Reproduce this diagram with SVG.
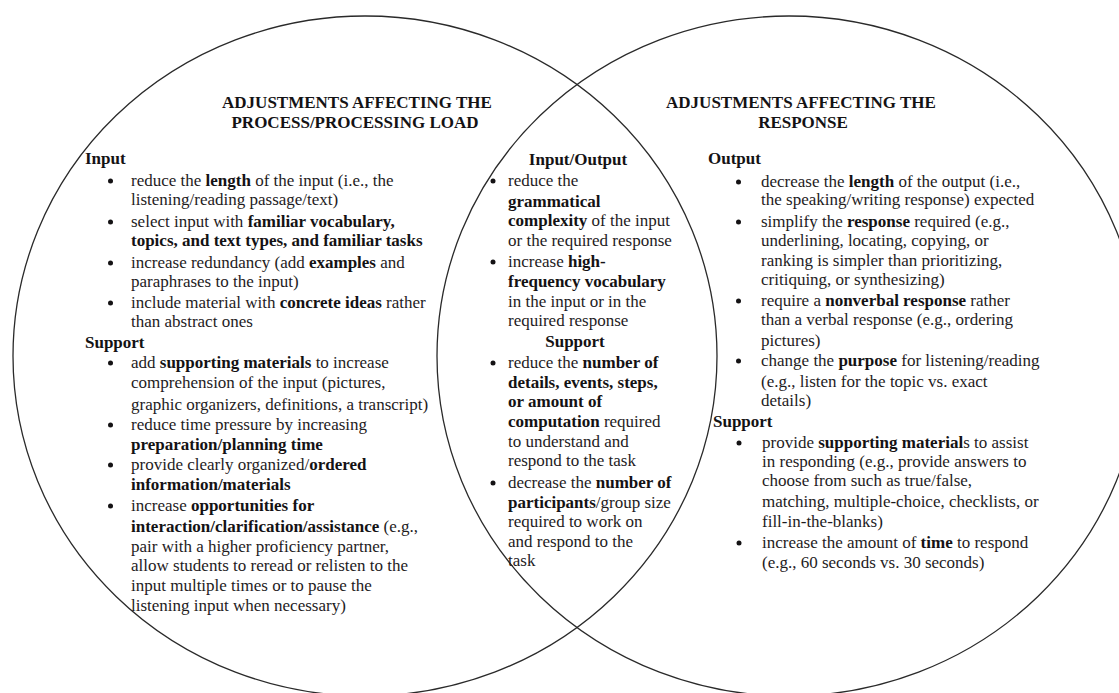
<svg xmlns="http://www.w3.org/2000/svg" xmlns:xlink="http://www.w3.org/1999/xlink" width="1119" height="693" viewBox="0 0 1119 693" font-family="'Liberation Serif', 'Times New Roman', 'DejaVu Serif', Times, serif">
  <style>
    text { font-family: 'Liberation Serif', 'Times New Roman', 'DejaVu Serif', Times, serif; font-size: 17px; fill: #1e1b1d; }
    .b { font-weight: bold; fill: #141214; }
    .h { font-weight: bold; text-anchor: middle; fill: #141214; }
    .ring { fill: none; stroke: #2a2a2a; stroke-width: 1.3; }
  </style>
  <defs>
    <!-- list marker -->
    <circle id="dot" r="2.5" fill="#141214"/>
  </defs>

  <rect width="1119" height="693" fill="#ffffff"/>

  <!-- the two overlapping ellipses -->
  <g id="circles">
    <ellipse id="circle-process" class="ring" cx="365" cy="356" rx="352" ry="340"/>
    <ellipse id="circle-response" class="ring" cx="789" cy="356" rx="352" ry="340"/>
  </g>

  <!-- left set: process / processing load -->
  <g id="process-load">
    <text class="h" x="357" y="108">ADJUSTMENTS AFFECTING THE</text>
    <text class="h" x="355" y="128">PROCESS/PROCESSING LOAD</text>

    <text class="b" x="85" y="164">Input</text>
    <use xlink:href="#dot" x="110.5" y="181"/>
    <text x="131" y="186">reduce the <tspan class="b">length</tspan> of the input (i.e., the</text>
    <text x="131" y="205">listening/reading passage/text)</text>
    <use xlink:href="#dot" x="110.5" y="222"/>
    <text x="131" y="227">select input with <tspan class="b">familiar vocabulary,</tspan></text>
    <text x="131" y="246" class="b">topics, and text types, and familiar tasks</text>
    <use xlink:href="#dot" x="110.5" y="263"/>
    <text x="131" y="268">increase redundancy (add <tspan class="b">examples</tspan> and</text>
    <text x="131" y="287">paraphrases to the input)</text>
    <use xlink:href="#dot" x="110.5" y="303"/>
    <text x="131" y="308">include material with <tspan class="b">concrete ideas</tspan> rather</text>
    <text x="131" y="327">than abstract ones</text>

    <text class="b" x="85" y="348">Support</text>
    <use xlink:href="#dot" x="110.5" y="363"/>
    <text x="131" y="368">add <tspan class="b">supporting materials</tspan> to increase</text>
    <text x="131" y="388">comprehension of the input (pictures,</text>
    <text x="131" y="410">graphic organizers, definitions, a transcript)</text>
    <use xlink:href="#dot" x="110.5" y="425"/>
    <text x="131" y="430">reduce time pressure by increasing</text>
    <text x="131" y="450" class="b">preparation/planning time</text>
    <use xlink:href="#dot" x="110.5" y="465"/>
    <text x="131" y="470">provide clearly organized/<tspan class="b">ordered</tspan></text>
    <text x="131" y="490" class="b">information/materials</text>
    <use xlink:href="#dot" x="110.5" y="506"/>
    <text x="131" y="511">increase <tspan class="b">opportunities for</tspan></text>
    <text x="131" y="532"><tspan class="b">interaction/clarification/assistance</tspan> (e.g.,</text>
    <text x="131" y="552">pair with a higher proficiency partner,</text>
    <text x="131" y="571">allow students to reread or relisten to the</text>
    <text x="131" y="591">input multiple times or to pause the</text>
    <text x="131" y="611">listening input when necessary)</text>
  </g>

  <!-- overlap: input / output -->
  <g id="input-output">
    <text class="h" x="578" y="165">Input/Output</text>
    <use xlink:href="#dot" x="493" y="181"/>
    <text x="508" y="186">reduce the</text>
    <text x="508" y="207" class="b">grammatical</text>
    <text x="508" y="226"><tspan class="b">complexity</tspan> of the input</text>
    <text x="508" y="246">or the required response</text>
    <use xlink:href="#dot" x="493" y="262"/>
    <text x="508" y="267">increase <tspan class="b">high-</tspan></text>
    <text x="508" y="287" class="b">frequency vocabulary</text>
    <text x="508" y="307">in the input or in the</text>
    <text x="508" y="326">required response</text>

    <text class="h" x="575" y="347">Support</text>
    <use xlink:href="#dot" x="493" y="363"/>
    <text x="508" y="368">reduce the <tspan class="b">number of</tspan></text>
    <text x="508" y="388" class="b">details, events, steps,</text>
    <text x="508" y="407" class="b">or amount of</text>
    <text x="508" y="427"><tspan class="b">computation</tspan> required</text>
    <text x="508" y="447">to understand and</text>
    <text x="508" y="466">respond to the task</text>
    <use xlink:href="#dot" x="493" y="483"/>
    <text x="508" y="488">decrease the <tspan class="b">number of</tspan></text>
    <text x="508" y="508"><tspan class="b">participants</tspan>/group size</text>
    <text x="508" y="527">required to work on</text>
    <text x="508" y="547">and respond to the</text>
    <text x="508" y="566">task</text>
  </g>

  <!-- right set: response -->
  <g id="response">
    <text class="h" x="801" y="108">ADJUSTMENTS AFFECTING THE</text>
    <text class="h" x="803" y="128">RESPONSE</text>

    <text class="b" x="708" y="164">Output</text>
    <use xlink:href="#dot" x="738.5" y="182"/>
    <text x="761" y="187">decrease the <tspan class="b">length</tspan> of the output (i.e.,</text>
    <text x="761" y="205">the speaking/writing response) expected</text>
    <use xlink:href="#dot" x="738.5" y="222"/>
    <text x="761" y="227">simplify the <tspan class="b">response</tspan> required (e.g.,</text>
    <text x="761" y="246">underlining, locating, copying, or</text>
    <text x="761" y="266">ranking is simpler than prioritizing,</text>
    <text x="761" y="285">critiquing, or synthesizing)</text>
    <use xlink:href="#dot" x="738.5" y="301"/>
    <text x="761" y="306">require a <tspan class="b">nonverbal response</tspan> rather</text>
    <text x="761" y="325">than a verbal response (e.g., ordering</text>
    <text x="761" y="346">pictures)</text>
    <use xlink:href="#dot" x="738.5" y="361"/>
    <text x="761" y="366">change the <tspan class="b">purpose</tspan> for listening/reading</text>
    <text x="761" y="387">(e.g., listen for the topic vs. exact</text>
    <text x="761" y="406">details)</text>

    <text class="b" x="713" y="427">Support</text>
    <use xlink:href="#dot" x="739" y="443"/>
    <text x="762" y="448">provide <tspan class="b">supporting material</tspan>s to assist</text>
    <text x="762" y="467">in responding (e.g., provide answers to</text>
    <text x="762" y="486">choose from such as true/false,</text>
    <text x="762" y="507">matching, multiple-choice, checklists, or</text>
    <text x="762" y="527">fill-in-the-blanks)</text>
    <use xlink:href="#dot" x="739" y="543"/>
    <text x="762" y="548">increase the amount of <tspan class="b">time</tspan> to respond</text>
    <text x="762" y="568">(e.g., 60 seconds vs. 30 seconds)</text>
  </g>
</svg>
